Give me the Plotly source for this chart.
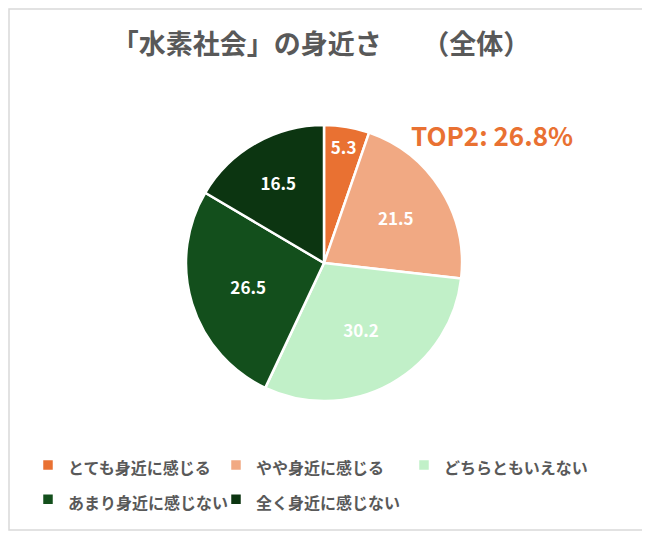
import plotly.graph_objects as go

# data
labels = ['とても身近に感じる', 'やや身近に感じる', 'どちらともいえない', 'あまり身近に感じない', '全く身近に感じない']
values = [5.3, 21.5, 30.2, 26.5, 16.5]
colors = ['#E97132', '#F1A983', '#C1F0C8', '#134F1C', '#0C3511']

title_text = '「水素社会」の身近さ　　（全体）'
top2 = round(values[0] + values[1], 1)

# page body has an 8px margin, so the figure is a bit smaller and shifted
OFF = 8
W, H = 650 - OFF, 533 - OFF


def px(x):
    return (x - OFF) / W


def py(y):
    return 1 - (y - OFF) / H


cx, cy, r = 324, 263, 138
FONT = 'Noto Sans CJK JP'

# bigger legend line height, normal text size
legend_labels = ['<span style="font-size:16px">%s</span>' % s for s in labels]

fig = go.Figure()
fig.add_trace(
    go.Pie(
        labels=legend_labels,
        values=values,
        sort=False,
        direction='clockwise',
        rotation=0,
        marker=dict(colors=colors, line=dict(color='white', width=2.5)),
        texttemplate='%{value:.1f}',
        textposition='inside',
        insidetextorientation='horizontal',
        textfont=dict(color='white', size=17, family=FONT, weight='bold'),
        domain=dict(x=[px(cx - r), px(cx + r)], y=[py(cy + r), py(cy - r)]),
        hoverinfo='value',
    )
)

fig.update_layout(
    width=W,
    height=H,
    margin=dict(l=0, r=0, t=0, b=0),
    paper_bgcolor='white',
    font=dict(family=FONT, color='#595959'),
    uniformtext=dict(minsize=17, mode='show'),
    title=dict(text=title_text, x=px(321), xanchor='center', y=py(45), yanchor='middle',
               font=dict(size=27, color='#595959', family=FONT, weight='bold')),
    legend=dict(
        orientation='h',
        x=px(28),
        xanchor='left',
        y=py(443),
        yanchor='top',
        entrywidth=143,
        font=dict(size=24, color='#595959', family=FONT, weight='bold'),
        traceorder='normal',
    ),
    shapes=[
        dict(type='rect', xref='paper', yref='paper', x0=1 / W, x1=px(645), y0=py(530), y1=1 - 1 / H,
             line=dict(color='#D9D9D9', width=1.5))
    ],
    annotations=[
        dict(text=f'TOP2: {top2}%', x=px(492), y=py(135), xref='paper', yref='paper',
             showarrow=False, xanchor='center', yanchor='middle',
             font=dict(size=26, color='#E97132', family=FONT, weight='bold'))
    ],
)

fig.write_html('out.html')
